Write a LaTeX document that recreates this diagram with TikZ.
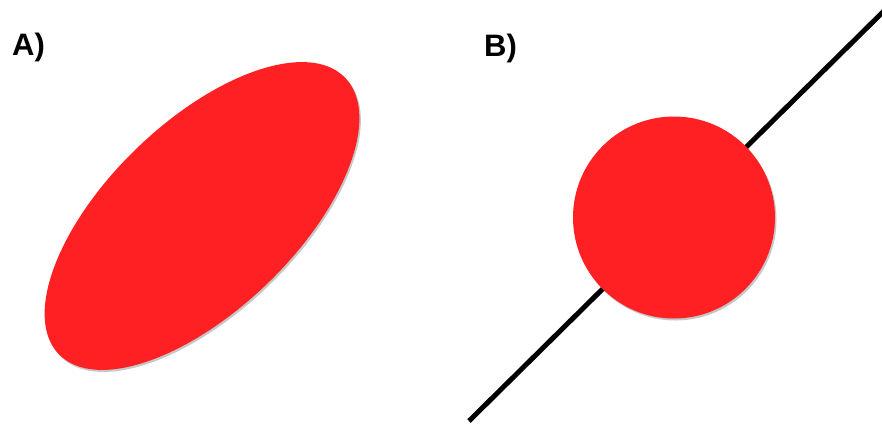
\documentclass[tikz,border=0pt]{standalone}
\usepackage{fontspec}
\setmainfont{Liberation Sans}
\usetikzlibrary{shapes.geometric}
\definecolor{blobred}{RGB}{254,32,34}
\tikzset{
  lbl/.style={anchor=base west, inner sep=0pt, font=\fontsize{31}{31}\selectfont\bfseries},
  blob/.style={fill=blobred, draw=none, inner sep=0pt, outer sep=0pt},
  shade/.style={fill=black, opacity=0.22, draw=none, inner sep=0pt, outer sep=0pt},
  axisline/.style={draw=black, line width=5pt}
}
\begin{document}
\begin{tikzpicture}[x=1pt,y=-1pt]
\useasboundingbox (0,0) rectangle (882,426);
\fill[white] (0,0) rectangle (882,426);
% labels
\node[lbl] (la) at (12,55) {A)};
\node[lbl] (lb) at (484,56) {B)};
% panel A: tilted ellipse
\node[shade, ellipse, minimum width=398pt, minimum height=188pt, rotate=44] (ashadow) at (203.5,218) {};
\node[blob, ellipse, minimum width=398pt, minimum height=188pt, rotate=44] (ell) at (202,216) {};
% panel B: line and circle
\coordinate (l1) at (469,421);
\coordinate (l2) at (892,3);
\begin{scope}
\clip (0,0) rectangle (882,426);
\draw[axisline] (l1) -- (l2);
\end{scope}
\node[shade, circle, minimum size=202pt] (cshadow) at (675.5,219.5) {};
\node[blob, circle, minimum size=202pt] (circ) at (674,217.5) {};
\end{tikzpicture}
\end{document}
